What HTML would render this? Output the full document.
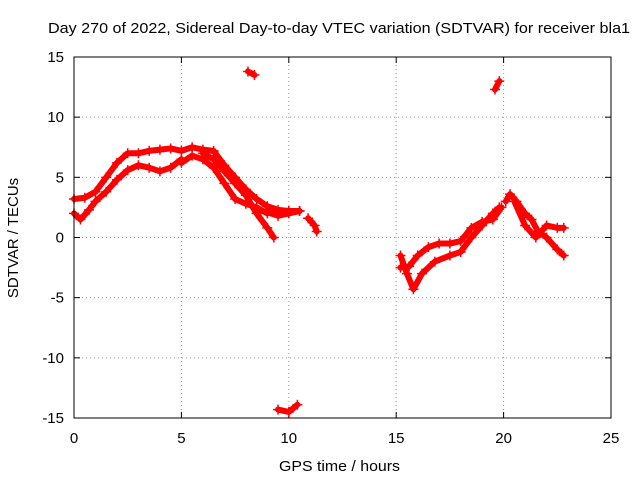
<!DOCTYPE html>
<html><head><meta charset="utf-8"><style>
body{margin:0;background:#fff}
svg{display:block;font-family:"Liberation Sans",sans-serif}
</style></head><body>
<svg id="chart" width="640" height="480">
<rect width="640" height="480" fill="#fff"/>
<text x="48" y="33" font-size="15" textLength="582" lengthAdjust="spacingAndGlyphs">Day 270 of 2022, Sidereal Day-to-day VTEC variation (SDTVAR) for receiver bla1</text>
<g id="grid"></g>
<g id="ticks"></g>
<g id="data"></g>
<rect x="74" y="57" width="537" height="361" fill="none" stroke="#000"/>
<text x="279" y="471" font-size="15" textLength="121" lengthAdjust="spacingAndGlyphs">GPS time / hours</text>
<text x="18" y="238" font-size="15" text-anchor="middle" transform="rotate(-90 18 238)">SDTVAR / TECUs</text>
</svg>
<script>
const xTicks=[0,5,10,15,20,25];
const yTicks=[15,10,5,0,-5,-10,-15];
const trackA=[[0,2],[0.3,1.5],[0.7,2.3],[1,3],[1.5,3.8],[2,4.8],[2.5,5.6],[3,6],[3.5,5.8],[4,5.5],[4.5,5.8],[5,6.5]];
const trackB=[[0,3.2],[0.5,3.3],[1,3.8],[1.5,5],[2,6.2],[2.5,7],[3,7],[3.5,7.2],[4,7.3],[4.5,7.4],[5,7.2],[5.5,7.5],[6,7.3],[6.5,7.2],[7,6],[7.5,5],[8,4],[8.5,3.2],[9,2.6],[9.5,2.3],[10,2.2],[10.5,2.2]];
const trackC=[[5,6.2],[5.5,6.8],[6,6.5],[6.5,5.8],[7,4.5],[7.5,3.2],[8,2.8],[8.5,2.5],[9,2]];
const trackD=[[6,7],[6.5,6.5],[7,5.5],[7.5,4.5],[8,3.5],[8.5,2],[9,0.8],[9.3,0]];
const trackE=[[8.5,2.3],[9,2.1],[9.5,1.8],[10,2],[10.5,2.2]];
const trackF=[[10.9,1.6],[11.2,1],[11.3,0.5]];
const trackG=[[8.1,13.8],[8.4,13.5]];
const trackH=[[9.5,-14.3],[10,-14.5],[10.4,-13.9]];
const trackI=[[15.2,-1.5],[15.5,-3],[15.8,-4.3],[16.2,-3],[16.8,-2],[17.5,-1.5],[18,-1.2],[18.5,0],[19,1],[19.5,2],[19.8,2.5]];
const trackJ=[[15.2,-2.5],[15.6,-2.4],[16,-1.5],[16.5,-0.8],[17,-0.5],[17.5,-0.5],[18,-0.3],[18.5,0.8],[19,1.3],[19.5,1.5],[19.9,2.5]];
const trackK=[[19.6,12.3],[19.8,13]];
const trackL=[[20.1,3],[20.3,3.6],[20.6,3],[21,2],[21.3,1.5],[21.6,0.5],[22,0],[22.5,-1],[22.8,-1.5]];
const trackM=[[20.5,3],[21,1],[21.5,0],[22,1],[22.5,0.8],[22.8,0.8]];
const tracks=[trackA,trackB,trackC,trackD,trackE,trackF,trackG,trackH,trackI,trackJ,trackK,trackL,trackM];
const NS="http://www.w3.org/2000/svg";
const X0=74,X1=611,Y0=418,Y1=57;
function xs(v){return X0+(v-0)/25*(X1-X0);}
function ys(v){return Y0-(v+15)/30*(Y0-Y1);}
function mk(t,a,p){const e=document.createElementNS(NS,t);for(const k in a)e.setAttribute(k,a[k]);p.appendChild(e);return e;}
const grid=document.getElementById('grid'),ticks=document.getElementById('ticks'),data=document.getElementById('data');
xTicks.forEach(v=>{const x=xs(v);
 if(v>0&&v<25){const g=mk('line',{x1:x,x2:x,y1:Y1,y2:Y0,stroke:'#999','stroke-dasharray':'1,3'},grid);
 
 }
 mk('line',{x1:x,x2:x,y1:Y0,y2:Y0-6,stroke:'#000'},ticks);
 mk('line',{x1:x,x2:x,y1:Y1,y2:Y1+6,stroke:'#000'},ticks);
 const t=mk('text',{x:x,y:Y0+25,'font-size':15,'text-anchor':'middle'},ticks);t.textContent=v;
 
 });
yTicks.forEach(v=>{const y=ys(v);
 if(v>-15&&v<15){const g=mk('line',{x1:X0,x2:X1,y1:y,y2:y,stroke:'#999','stroke-dasharray':'1,3'},grid);
 
 }
 mk('line',{x1:X0,x2:X0+6,y1:y,y2:y,stroke:'#000'},ticks);
 mk('line',{x1:X1,x2:X1-6,y1:y,y2:y,stroke:'#000'},ticks);
 const t=mk('text',{x:X0-10,y:y+5,'font-size':15,'text-anchor':'end'},ticks);t.textContent=v;
 
 });
tracks.forEach(tr=>{
 const pl=mk('polyline',{points:tr.map(p=>xs(p[0])+','+ys(p[1])).join(' '),fill:'none',stroke:'#f00','stroke-width':6,'stroke-linejoin':'round','stroke-linecap':'round'},data);
 
 
 tr.forEach(p=>{const x=xs(p[0]),y=ys(p[1]);
  const m=mk('path',{d:`M${x-5},${y}h10M${x},${y-5}v10`,stroke:'#f00','stroke-width':1.5},data);
  
  });
});
</script>
</body></html>
